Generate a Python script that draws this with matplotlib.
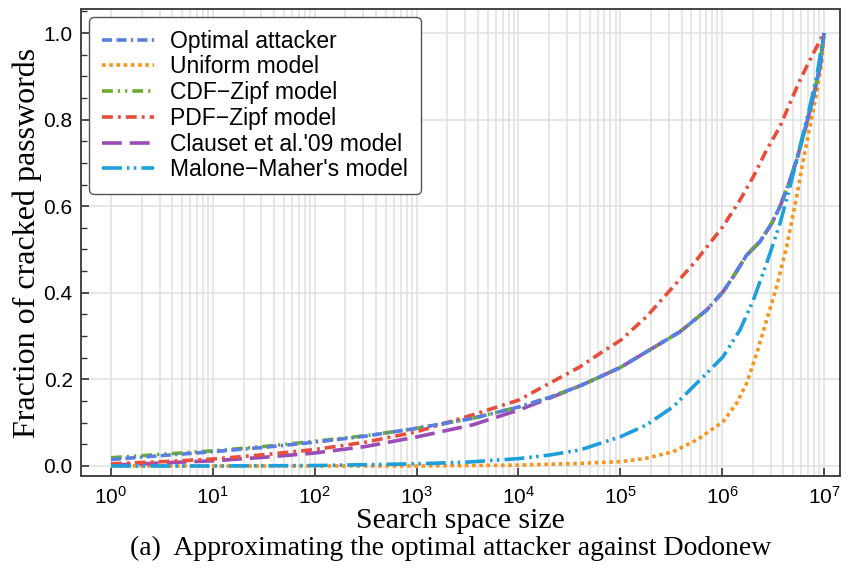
import numpy as np
import matplotlib
matplotlib.use("Agg")
import matplotlib.pyplot as plt
from matplotlib.ticker import FixedLocator, MultipleLocator, LogFormatterSciNotation

plt.rcParams['font.family'] = ['Liberation Sans', 'DejaVu Sans']
plt.rcParams['mathtext.fontset'] = 'custom'
plt.rcParams['mathtext.rm'] = 'Liberation Sans'
plt.rcParams['mathtext.it'] = 'Liberation Sans:italic'

# Data (x given as log10 of the search space size)
opt_logx = [0, 0.5, 1, 1.5, 2, 2.5, 3, 3.55, 4, 4.3, 4.604, 4.997, 5.586, 5.848, 6.011, 6.109,
            6.241, 6.371, 6.486, 6.568, 6.666, 6.732, 6.83, 6.895, 6.961, 7]
opt_y = [0.015, 0.024, 0.033, 0.043, 0.055, 0.069, 0.087, 0.110, 0.136, 0.158, 0.185, 0.227, 0.310,
         0.360, 0.403, 0.437, 0.487, 0.518, 0.560, 0.599, 0.660, 0.707, 0.791, 0.853, 0.922, 1.0]

cdf_logx = opt_logx
cdf_y = [0.019, 0.027, 0.035, 0.045, 0.057, 0.070, 0.087, 0.110, 0.136, 0.158, 0.185, 0.227, 0.310,
         0.360, 0.403, 0.437, 0.487, 0.518, 0.560, 0.599, 0.660, 0.707, 0.791, 0.853, 0.922, 1.0]

uni_logx = [0, 1, 2, 3, 4, 4.604, 5.007, 5.259, 5.52, 5.75, 6.008, 6.143, 6.241, 6.339, 6.437,
            6.535, 6.633, 6.732, 6.797, 6.862, 6.928, 6.977, 7]
uni_y = [0.0, 0.0, 0.0, 0.0, 0.002, 0.006, 0.010, 0.018, 0.033, 0.060, 0.102, 0.145, 0.191, 0.260,
         0.337, 0.414, 0.506, 0.622, 0.707, 0.784, 0.861, 0.930, 1.0]

pdf_logx = [0, 0.5, 1, 1.5, 2, 2.5, 3, 3.55, 4, 4.604, 4.8, 5.007, 5.259, 5.52, 5.75, 6.008,
            6.175, 6.306, 6.437, 6.568, 6.666, 6.764, 6.895, 7]
pdf_y = [0.005, 0.010, 0.016, 0.026, 0.038, 0.055, 0.079, 0.118, 0.152, 0.229, 0.260, 0.291, 0.345,
         0.414, 0.476, 0.553, 0.614, 0.668, 0.730, 0.784, 0.838, 0.891, 0.953, 1.0]

cla_logx = [0, 0.5, 1, 1.5, 2, 2.5, 3, 3.55, 4, 4.3, 4.604, 4.997, 5.586, 5.848, 6.011, 6.109,
            6.241, 6.371, 6.486, 6.568, 6.666, 6.732, 6.83, 6.895, 6.961, 7]
cla_y = [0.002, 0.007, 0.012, 0.020, 0.030, 0.045, 0.067, 0.095, 0.129, 0.156, 0.185, 0.227, 0.310,
         0.360, 0.403, 0.437, 0.487, 0.518, 0.560, 0.599, 0.660, 0.707, 0.791, 0.853, 0.922, 1.0]

mm_logx = [0, 1, 2, 3, 3.5, 4, 4.3, 4.604, 5.007, 5.259, 5.52, 5.75, 6.008, 6.175, 6.306, 6.437,
           6.568, 6.666, 6.764, 6.862, 6.928, 7]
mm_y = [0.0, 0.0, 0.001, 0.005, 0.009, 0.017, 0.025, 0.037, 0.068, 0.095, 0.137, 0.191, 0.252, 0.314,
        0.383, 0.468, 0.560, 0.645, 0.737, 0.830, 0.899, 1.0]

labels = ["Optimal attacker", "Uniform model", "CDF\u2212Zipf model", "PDF\u2212Zipf model",
          "Clauset et al.'09 model", "Malone\u2212Maher's model"]

fig = plt.figure(figsize=(8.5, 5.71), dpi=100)
ax = fig.add_axes([0.0953, 0.1664, 0.8929, 0.8178])

lw = 2.6
ax.plot(10 ** np.array(opt_logx), opt_y, color='#5a7ee2', lw=lw, dashes=(2.8, 1.2, 2.8, 1.2, 0.6, 1.2),
        label=labels[0], zorder=5)
ax.plot(10 ** np.array(uni_logx), uni_y, color='#f7941d', lw=lw, dashes=(1.0, 1.0),
        label=labels[1], zorder=3)
ax.plot(10 ** np.array(cdf_logx), cdf_y, color='#6aac2c', lw=lw, dashes=(3.0, 1.4, 0.6, 1.4, 0.6, 1.4),
        label=labels[2], zorder=4)
ax.plot(10 ** np.array(pdf_logx), pdf_y, color='#e84e3a', lw=lw, dashes=(3.0, 1.4, 0.8, 1.4),
        label=labels[3], zorder=4)
ax.plot(10 ** np.array(cla_logx), cla_y, color='#9b4cb9', lw=lw, dashes=(5.5, 2.2),
        label=labels[4], zorder=3)
ax.plot(10 ** np.array(mm_logx), mm_y, color='#1c9fda', lw=lw, dashes=(5.5, 1.4, 0.7, 1.2, 0.7, 1.4),
        label=labels[5], zorder=6)

ax.set_xscale('log')
ax.set_xlim(10 ** -0.2945, 10 ** 7.157)
ax.set_ylim(-0.0231, 1.0554)
major_x = [10.0 ** k for k in range(0, 8)]
minor_x = [m * 10.0 ** k for k in range(0, 7) for m in range(2, 10)]
ax.xaxis.set_major_locator(FixedLocator(major_x))
ax.xaxis.set_minor_locator(FixedLocator(minor_x))
ax.xaxis.set_major_formatter(LogFormatterSciNotation())
ax.yaxis.set_major_locator(MultipleLocator(0.2))
ax.yaxis.set_minor_locator(MultipleLocator(0.05))

ax.grid(which='major', color='#e0e0e0', lw=1.1, zorder=0)
ax.grid(which='minor', axis='x', color='#e0e0e0', lw=1.1, zorder=0)
ax.set_axisbelow(True)

ax.tick_params(axis='both', which='major', direction='in', length=6, width=1.2, color='#333333',
               labelsize=15, top=False, right=False)
ax.tick_params(axis='x', which='minor', length=0)
ax.tick_params(axis='y', which='minor', direction='in', length=4, width=1.0, color='#333333')
ax.tick_params(axis='x', pad=7)
ax.tick_params(axis='y', pad=6)
for s in ax.spines.values():
    s.set_color('#444444')
    s.set_linewidth(1.4)

ax.set_xlabel("Search space size", family=['Liberation Serif'], fontsize=21.5, labelpad=0)
ax.set_ylabel("Fraction of cracked passwords", family=['Liberation Serif'], fontsize=23, labelpad=1)

fig.text(0.53, 0.04, "(a)  Approximating the optimal attacker against Dodonew",
         family=['Liberation Serif'], fontsize=20, ha='center', va='center')

leg = ax.legend(loc='upper left', fontsize=16.5, handlelength=2.3, labelspacing=0.12,
                handletextpad=0.7, borderpad=0.55, borderaxespad=0,
                bbox_to_anchor=(0.0105, 0.983),
                fancybox=True, framealpha=1.0, edgecolor='#555555')
leg.get_frame().set_linewidth(1.0)

fig.savefig('out.png', dpi=100)
